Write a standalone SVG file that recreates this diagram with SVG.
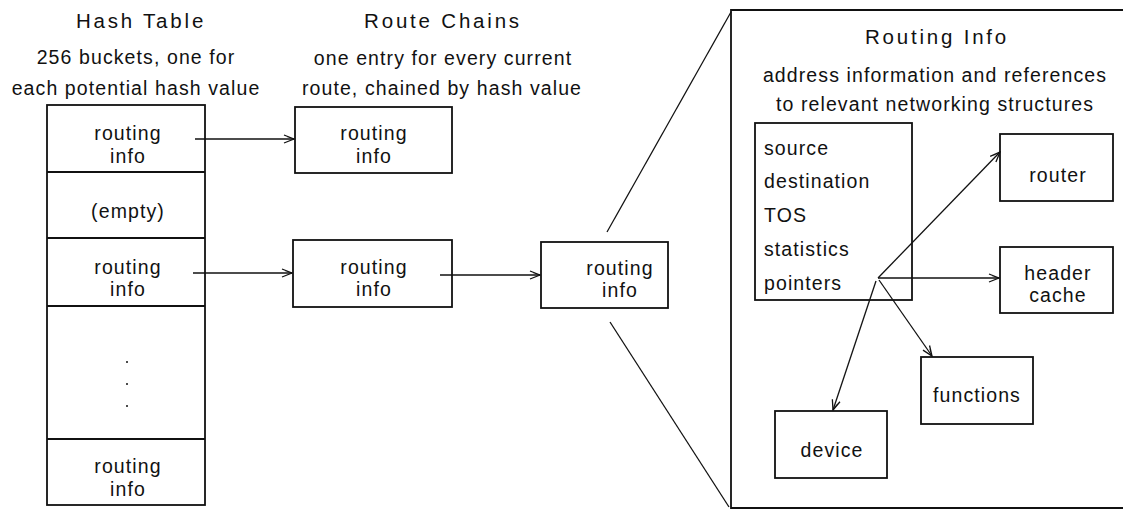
<svg xmlns="http://www.w3.org/2000/svg" width="1123" height="510" viewBox="0 0 1123 510">
  <style>
    .box { fill: #ffffff; stroke: #111111; stroke-width: 1.8; }
    .frame { fill: none; stroke: #111111; stroke-width: 1.8; }
    .t { font-family: "Liberation Sans", Arial, sans-serif; font-size: 19.5px; fill: #111111; letter-spacing: 1.1px; }
    .c { text-anchor: middle; }
    .h { font-size: 20.5px; letter-spacing: 2.8px; }
    .conn { fill: none; stroke: #111111; stroke-width: 1.3; }
    .dot { stroke: #111111; stroke-width: 1.4; }
    .arrow { marker-end: url(#openhead); }
  </style>
  <defs>
    <marker id="openhead" viewBox="0 0 12 10" refX="11" refY="5" markerWidth="12" markerHeight="10" markerUnits="userSpaceOnUse" orient="auto">
      <path d="M1,1 L11,5 L1,9 M4,2.5 L11,5" fill="none" stroke="#111111" stroke-width="1.3"/>
    </marker>
  </defs>

  <!-- column headings -->
  <g id="heading-hash">
    <text class="t c h" x="141" y="28">Hash Table</text>
    <text class="t c" x="136" y="64">256 buckets, one for</text>
    <text class="t c" x="136" y="95">each potential hash value</text>
  </g>
  <g id="heading-chains">
    <text class="t c h" x="443" y="28">Route Chains</text>
    <text class="t c" x="443" y="65">one entry for every current</text>
    <text class="t c" x="442" y="95">route, chained by hash value</text>
  </g>

  <!-- hash table buckets -->
  <g id="hash-table">
    <rect class="box" x="47" y="105" width="158" height="400"/>
    <line class="frame" x1="47" y1="172" x2="205" y2="172"/>
    <line class="frame" x1="47" y1="238" x2="205" y2="238"/>
    <line class="frame" x1="47" y1="306" x2="205" y2="306"/>
    <line class="frame" x1="47" y1="439" x2="205" y2="439"/>
    <text class="t c" x="128" y="140">routing</text>
    <text class="t c" x="128" y="163">info</text>
    <text class="t c" x="128" y="218">(empty)</text>
    <text class="t c" x="128" y="274">routing</text>
    <text class="t c" x="128" y="296">info</text>
    <line class="dot" x1="126" y1="362" x2="128" y2="362"/>
    <line class="dot" x1="126" y1="384" x2="128" y2="384"/>
    <line class="dot" x1="126" y1="406" x2="128" y2="406"/>
    <text class="t c" x="128" y="473">routing</text>
    <text class="t c" x="128" y="496">info</text>
  </g>

  <!-- route chain entries -->
  <g id="chain-1">
    <rect class="box" x="295" y="107" width="157" height="66"/>
    <text class="t c" x="374" y="140">routing</text>
    <text class="t c" x="374" y="163">info</text>
  </g>
  <g id="chain-2">
    <rect class="box" x="293" y="240" width="159" height="67"/>
    <text class="t c" x="374" y="274">routing</text>
    <text class="t c" x="374" y="296">info</text>
  </g>
  <g id="chain-3">
    <rect class="box" x="541" y="242" width="127" height="66"/>
    <text class="t c" x="620" y="275">routing</text>
    <text class="t c" x="620" y="297">info</text>
  </g>

  <!-- expanded routing info record -->
  <g id="routing-info-detail">
    <path class="frame" d="M1125,10 H731 V508 H1125"/>
    <text class="t c h" x="937" y="44">Routing Info</text>
    <text class="t c" x="935" y="82">address information and references</text>
    <text class="t c" x="935" y="111">to relevant networking structures</text>
  </g>
  <g id="fields">
    <rect class="box" x="755" y="123" width="157" height="177"/>
    <text class="t" x="764" y="155">source</text>
    <text class="t" x="764" y="188">destination</text>
    <text class="t" x="764" y="222">TOS</text>
    <text class="t" x="764" y="256">statistics</text>
    <text class="t" x="764" y="290">pointers</text>
  </g>
  <g id="router">
    <rect class="box" x="1000" y="134" width="113" height="67"/>
    <text class="t c" x="1058" y="182">router</text>
  </g>
  <g id="header-cache">
    <rect class="box" x="1000" y="247" width="113" height="66"/>
    <text class="t c" x="1058" y="280">header</text>
    <text class="t c" x="1058" y="302">cache</text>
  </g>
  <g id="functions">
    <rect class="box" x="921" y="357" width="112" height="67"/>
    <text class="t c" x="977" y="402">functions</text>
  </g>
  <g id="device">
    <rect class="box" x="775" y="411" width="112" height="67"/>
    <text class="t c" x="832" y="457">device</text>
  </g>

  <!-- connectors -->
  <g id="connectors">
    <line class="conn arrow" x1="195" y1="139" x2="294" y2="139"/>
    <line class="conn arrow" x1="193" y1="273" x2="292" y2="273"/>
    <line class="conn arrow" x1="440" y1="275" x2="540" y2="275"/>
    <line class="conn" x1="607" y1="232" x2="731" y2="12"/>
    <line class="conn" x1="610" y1="322" x2="729" y2="507"/>
    <line class="conn arrow" x1="878" y1="278" x2="999" y2="278"/>
    <line class="conn arrow" x1="878" y1="278" x2="1000" y2="152"/>
    <line class="conn arrow" x1="879" y1="280" x2="932" y2="356"/>
    <line class="conn arrow" x1="876" y1="281" x2="833" y2="410"/>
  </g>
</svg>
